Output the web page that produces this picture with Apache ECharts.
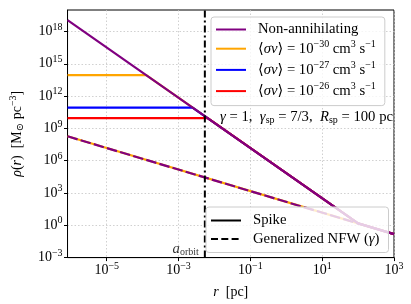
<!DOCTYPE html>
<html><head><meta charset="utf-8">
<script src="https://cdn.jsdelivr.net/npm/echarts@6/dist/echarts.min.js"></script>
<style>html,body{margin:0;padding:0;background:#fff}#c{width:411px;height:304px}</style>
</head><body><div id="c"></div>
<script>
// ---- data (r in pc, rho in Msun pc^-3) ----
const xTicks = [1e-5, 1e-3, 1e-1, 1e1, 1e3];
const yTicks = [1e-3, 1e0, 1e3, 1e6, 1e9, 1e12, 1e15, 1e18];
const rRange = [8.1e-7, 1e3];
const rhoRange = [1e-3, 1e20];
const aOrbit = 5.4e-3;
const spikeR   = [8.1e-7, 100, 1000];
const spikeRho = [1.17e19, 1.5, 0.15];
const nfwR   = [8.1e-7, 100];
const nfwRho = [1.85e8, 1.5];
const ann30R   = [8.1e-7, 1.26e-4, 100, 1000];
const ann30Rho = [8.9e13, 8.9e13, 1.5, 0.15];
const ann27R   = [8.1e-7, 2.45e-3, 100, 1000];
const ann27Rho = [8.7e10, 8.7e10, 1.5, 0.15];
const ann26R   = [8.1e-7, 6.5e-3, 100, 1000];
const ann26Rho = [9.1e9, 9.1e9, 1.5, 0.15];
const seriesNames = ['Non-annihilating', 'sv30', 'sv27', 'sv26'];
const styleNames = ['Spike', 'Generalized NFW (γ)'];

// ---- helpers ----
const L = Math.log10;
const pts = (r, rho) => r.map((v, i) => [L(v), L(rho[i])]);
const FONT = "'Liberation Serif', 'DejaVu Serif', serif";
const PURPLE = '#800080', ORANGE = '#FFA500', BLUE = '#0000FF', RED = '#FF0000';
const expStr = e => (e < 0 ? '\u2212' + (-e) : '' + e);
function richSet(base, sup, lh) {
  return {
    n: {fontFamily: FONT, fontSize: base, color: '#000', lineHeight: lh},
    i: {fontFamily: FONT, fontSize: base, color: '#000', fontStyle: 'italic', lineHeight: lh},
    s: {fontFamily: FONT, fontSize: sup, color: '#000', lineHeight: lh, padding: [0, 0, 9, 0]},
    d: {fontFamily: FONT, fontSize: sup, color: '#000', lineHeight: lh, padding: [6, 0, 0, 0]}
  };
}
const tickRich = richSet(14, 10, 20);
const legRich = richSet(14.7, 10, 20);
const tickFmt = v => '{n|10}{s|' + expStr(Math.round(v)) + '}';
const legendText = {
  'Non-annihilating': '{n|Non-annihilating}',
  'sv30': '{n|\u27e8}{i|σv}{n|\u27e9 = 10}{s|\u221230}{n| cm}{s|3}{n| s}{s|\u22121}',
  'sv27': '{n|\u27e8}{i|σv}{n|\u27e9 = 10}{s|\u221227}{n| cm}{s|3}{n| s}{s|\u22121}',
  'sv26': '{n|\u27e8}{i|σv}{n|\u27e9 = 10}{s|\u221226}{n| cm}{s|3}{n| s}{s|\u22121}',
  'Spike': '{n|Spike}',
  'Generalized NFW (γ)': '{n|Generalized NFW (}{i|γ}{n|)}'
};
const DASH = [10.5, 3.2];

const lineS = (name, data, color, extra) => Object.assign({
  type: 'line', name, data, showSymbol: false, symbol: 'none', silent: true,
  lineStyle: {color, width: 2.2}, itemStyle: {color}
}, extra || {});

const chart = echarts.init(document.getElementById('c'), null, {renderer: 'canvas'});
const legendCommon = {
  orient: 'vertical', itemWidth: 30, itemHeight: 14,
  backgroundColor: 'rgba(255,255,255,0.8)', borderColor: '#cccccc', borderWidth: 1, borderRadius: 3,
  formatter: n => legendText[n],
  itemStyle: {color: 'rgba(0,0,0,0)', borderWidth: 0, opacity: 0},
  textStyle: {rich: legRich, padding: [0, 0, 0, 7]},
  selectedMode: false, z: 4
};
chart.setOption({
  animation: false,
  grid: {left: 60, right: 17, top: 10, bottom: 46, show: true, borderColor: '#000', borderWidth: 1, containLabel: false},
  xAxis: {
    type: 'value', min: L(rRange[0]), max: L(rRange[1]),
    name: '{i|r}{n|  [pc]}', nameLocation: 'middle', nameGap: 22,
    nameTextStyle: {rich: tickRich},
    axisLine: {onZero: false, lineStyle: {color: '#000', width: 1}},
    axisTick: {show: true, length: 3.5, customValues: xTicks.map(L), lineStyle: {color: '#000', width: 1}},
    axisLabel: {customValues: xTicks.map(L), formatter: tickFmt, rich: tickRich, margin: 3},
    splitLine: {show: true, lineStyle: {color: '#c4c4c4', type: [1.5, 2], width: 0.8}}
  },
  yAxis: {
    type: 'value', min: L(rhoRange[0]), max: L(rhoRange[1]),
    name: '{i|ρ}{n|(}{i|r}{n|)  [M}{d|⊙}{n| pc}{s|\u22123}{n|]}', nameLocation: 'middle', nameGap: 36, nameRotate: 90,
    nameTextStyle: {rich: tickRich},
    axisLine: {onZero: false, lineStyle: {color: '#000', width: 1}},
    axisTick: {show: true, length: 3.5, customValues: yTicks.map(L), lineStyle: {color: '#000', width: 1}},
    axisLabel: {customValues: yTicks.map(L), formatter: tickFmt, rich: tickRich, margin: 5},
    splitLine: {show: true, lineStyle: {color: '#c4c4c4', type: [1.5, 2], width: 0.8}}
  },
  legend: [
    Object.assign({}, legendCommon, {left: 211, top: 17, padding: [5, 9, 5, 4], itemGap: 2.2, data: seriesNames}),
    Object.assign({}, legendCommon, {left: 206, top: 207, padding: [6, 9, 6, 4], itemGap: 3.5, data: styleNames})
  ],
  graphic: [{
    type: 'text', right: 18, top: 109, z: 100,
    style: {
      text: '{i|γ}{n| = 1,  }{i|γ}{d|sp}{n| = 7/3,  }{i|R}{d|sp}{n| = 100 pc}',
      rich: legRich
    }
  }],
  series: [
    lineS('nfwUnder', pts(nfwR, nfwRho), ORANGE),
    lineS('nfwOver', pts(nfwR, nfwRho), PURPLE, {lineStyle: {color: PURPLE, width: 2.2, type: DASH}}),
    lineS('sv30', pts(ann30R, ann30Rho), ORANGE),
    lineS('sv27', pts(ann27R, ann27Rho), BLUE),
    lineS('sv26', pts(ann26R, ann26Rho), RED),
    lineS('Non-annihilating', pts(spikeR, spikeRho), PURPLE),
    lineS('aorbit', [[L(aOrbit), L(rhoRange[0])], [L(aOrbit), L(rhoRange[1])]], '#000',
      {lineStyle: {color: '#000', width: 2, type: [7, 3, 2, 3]}}),
    {type: 'scatter', name: 'aorbitLabel', data: [[L(aOrbit), -2.2]], symbolSize: 0, silent: true,
      label: {show: true, position: 'left', distance: 6, formatter: '{i|a}{d|orbit}', rich: legRich}},
    lineS('Spike', [], '#000', {lineStyle: {color: '#000', width: 2}}),
    lineS('Generalized NFW (γ)', [], '#000', {lineStyle: {color: '#000', width: 2, type: [7, 3.3]}})
  ]
});
</script></body></html>
